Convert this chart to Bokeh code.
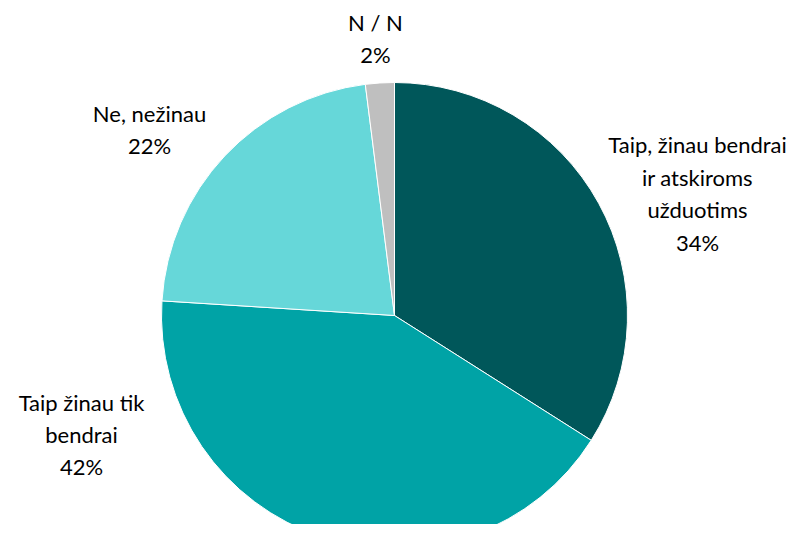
import math
from bokeh.plotting import figure
from bokeh.models import Range1d, ColumnDataSource
from bokeh.core.properties import value
from bokeh.embed import file_html
from bokeh.resources import INLINE

categories = ["Taip, žinau bendrai\nir atskiroms\nužduotims", "Taip žinau tik\nbendrai", "Ne, nežinau", "N / N"]
shares = [34, 42, 22, 2]
colors = ["#00575A", "#00A3A6", "#66D7D9", "#BFBFBF"]

W, H = 789, 524
p = figure(width=W, height=H, output_backend="svg", toolbar_location=None,
           x_range=Range1d(0, W), y_range=Range1d(0, H), min_border=0)
p.axis.visible = False
p.grid.visible = False
p.outline_line_color = None
p.background_fill_color = "white"
p.border_fill_color = "white"

cx, cy, r = 394, H - 315, 233
total = sum(shares)
starts, ends = [], []
cum = 0
for s in shares:
    starts.append(math.pi / 2 - cum / total * 2 * math.pi)
    cum += s
    ends.append(math.pi / 2 - cum / total * 2 * math.pi)

src = ColumnDataSource(dict(start=starts, end=ends, color=colors))
p.wedge(x=cx, y=cy, radius=r, start_angle="start", end_angle="end", direction="clock",
        fill_color="color", line_color="white", line_width=1, source=src)

# label anchors (layout positions, measured from the top)
lx = [697, 81, 149, 375]
ly_top = [193, 434, 129, 38]
ly = [H - v for v in ly_top]
texts = [f"{c}\n{s}%" for c, s in zip(categories, shares)]
p.text(x=lx, y=ly, text=texts, text_align="center", text_baseline="middle",
       text_font=value("Lato"), text_font_size="22px", text_color="#000000",
       text_line_height=1.2)

open("out.html", "w").write(file_html(p, INLINE))
